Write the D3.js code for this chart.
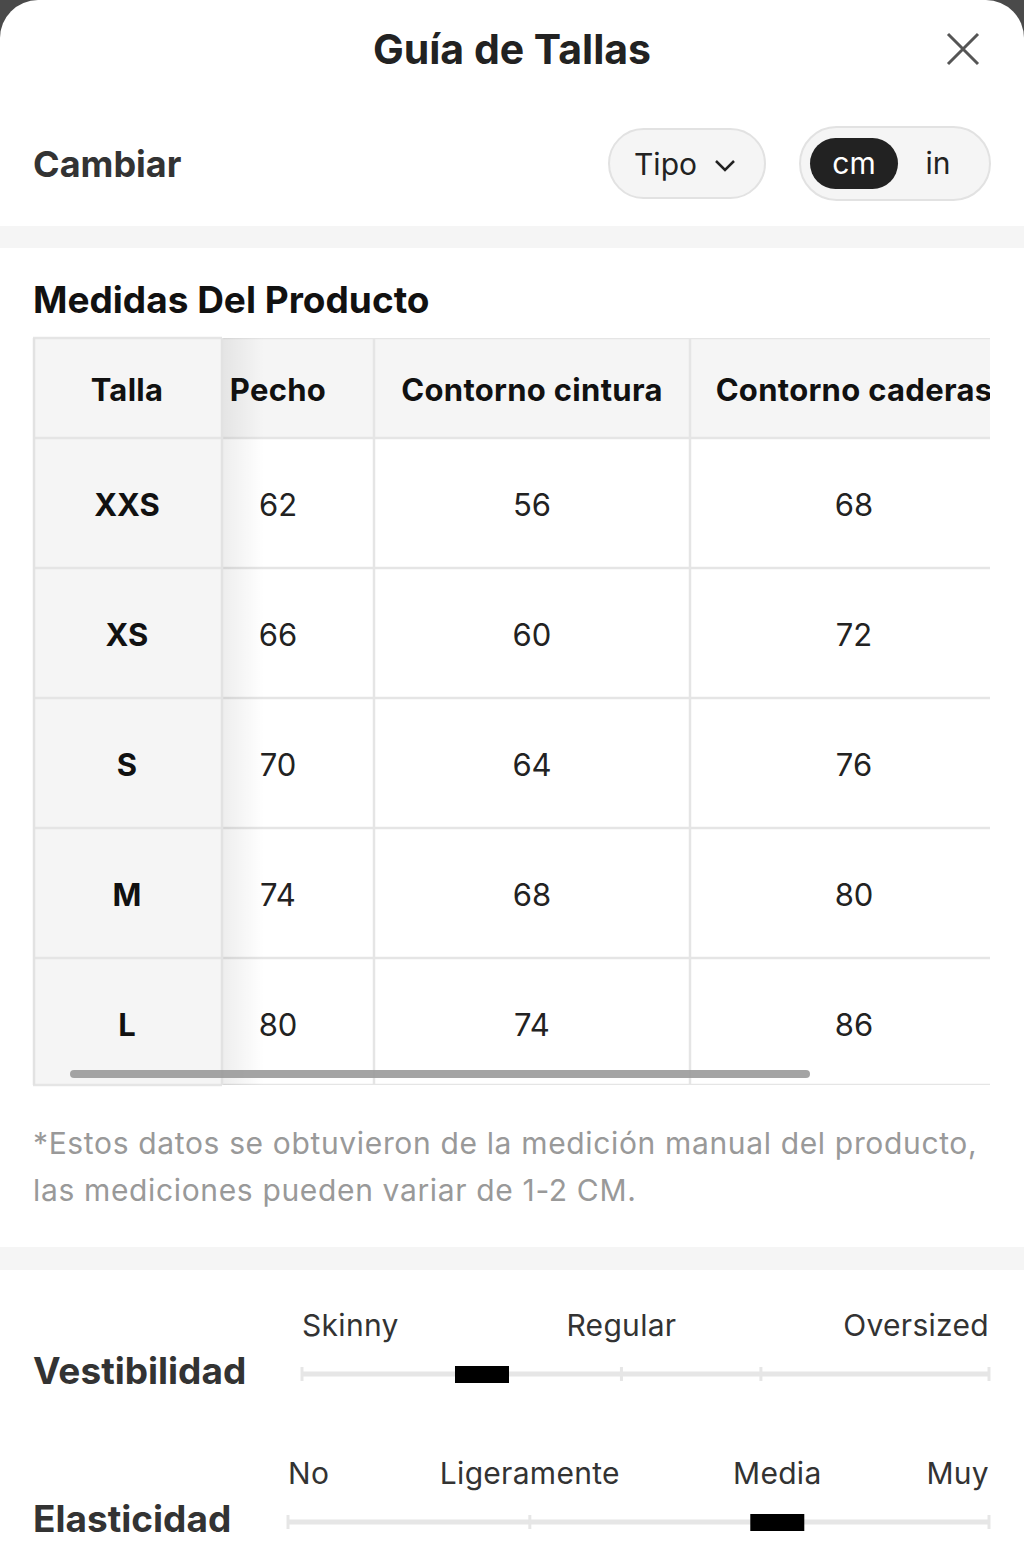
<!DOCTYPE html>
<html>
<head>
<meta charset="utf-8">
<script src="https://cdn.jsdelivr.net/npm/d3@7"></script>
<style>
  html, body { margin: 0; padding: 0; background: #4a4a4a; }
  svg { display: block; font-family: "Inter", "Roboto", sans-serif; }
</style>
</head>
<body>
<svg id="guide" width="1024" height="1568"></svg>
<script>
// datos de la tabla
var sizes = ["XXS", "XS", "S", "M", "L"];
var headers = ["Talla", "Pecho", "Contorno cintura", "Contorno caderas"];
var pecho = [62, 66, 70, 74, 80];
var cintura = [56, 60, 64, 68, 74];
var caderas = [68, 72, 76, 80, 86];

// vestibilidad (escala 0-100)
var fitLabels = ["Skinny", "Regular", "Oversized"];
var fitLabelAt = [0, 46.5, 100];
var fitTicks = [0, 46.5, 66.8, 100];
var fitValue = 26.2;

// elasticidad (escala 0-100)
var stretchLabels = ["No", "Ligeramente", "Media", "Muy"];
var stretchLabelAt = [0, 34.5, 69.8, 100];
var stretchTicks = [0, 34.5, 69.8, 100];
var stretchValue = 69.8;

var svg = d3.select("#guide");
var ink = "#222";

// hoja blanca con esquinas redondeadas
svg.append("rect").attr("x", 0).attr("y", 0).attr("width", 1024).attr("height", 1640)
  .attr("rx", 38).style("fill", "#fff");

// cabecera
svg.append("text").attr("x", 512).attr("y", 64).attr("text-anchor", "middle")
  .style("font-size", "41px").style("font-weight", 700).style("fill", ink)
  .text("Guía de Tallas");
svg.append("path").attr("d", "M948,34L978,64M978,34L948,64")
  .style("stroke", "#555").style("stroke-width", 3).style("fill", "none");

svg.append("text").attr("x", 33).attr("y", 177)
  .style("font-size", "36px").style("font-weight", 700).style("fill", "#333")
  .text("Cambiar");

// botón Tipo
svg.append("rect").attr("x", 609).attr("y", 129).attr("width", 156).attr("height", 69).attr("rx", 34.5)
  .style("fill", "#f5f5f5").style("stroke", "#e2e2e2").style("stroke-width", 2);
svg.append("text").attr("x", 634).attr("y", 175)
  .style("font-size", "30px").style("fill", ink).text("Tipo");
svg.append("path").attr("d", "M716,161L725,170L734,161")
  .style("stroke", ink).style("stroke-width", 2.5).style("fill", "none");

// selector cm / in
svg.append("rect").attr("x", 800).attr("y", 127).attr("width", 190).attr("height", 73).attr("rx", 36.5)
  .style("fill", "#f5f5f5").style("stroke", "#e2e2e2").style("stroke-width", 2);
svg.append("rect").attr("x", 810).attr("y", 138).attr("width", 88).attr("height", 51).attr("rx", 25.5)
  .style("fill", "#222");
svg.append("text").attr("x", 854).attr("y", 174).attr("text-anchor", "middle")
  .style("font-size", "30px").style("fill", "#fff").text("cm");
svg.append("text").attr("x", 938).attr("y", 174).attr("text-anchor", "middle")
  .style("font-size", "30px").style("fill", ink).text("in");

// bandas grises
svg.append("rect").attr("x", 0).attr("y", 226).attr("width", 1024).attr("height", 22).style("fill", "#f5f5f5");
svg.append("rect").attr("x", 0).attr("y", 1247).attr("width", 1024).attr("height", 23).style("fill", "#f5f5f5");

svg.append("text").attr("x", 33).attr("y", 313)
  .style("font-size", "37px").style("font-weight", 700).style("fill", "#111")
  .text("Medidas Del Producto");

// tabla
var tableLeft = 33, tableRight = 990, headTop = 338, headBottom = 438, tableBottom = 1085;
var cols = [
  { key: "size", x0: 33, x1: 222 },
  { key: "pecho", x0: 182, x1: 374 },
  { key: "cintura", x0: 374, x1: 690 },
  { key: "caderas", x0: 690, x1: 1018 }
];
var columnsData = [sizes, pecho, cintura, caderas];

var y = d3.scaleBand().domain(sizes).range([headBottom, headBottom + 130 * sizes.length]);

var defs = svg.append("defs");
defs.append("clipPath").attr("id", "tclip").append("rect")
  .attr("x", tableLeft).attr("y", headTop).attr("width", tableRight - tableLeft).attr("height", tableBottom - headTop);
var grad = defs.append("linearGradient").attr("id", "shadow");
grad.append("stop").attr("offset", "0%").attr("stop-color", "#000").attr("stop-opacity", 0.07);
grad.append("stop").attr("offset", "100%").attr("stop-color", "#000").attr("stop-opacity", 0);

var table = svg.append("g").attr("clip-path", "url(#tclip)");

// fila de cabecera
table.append("rect").attr("x", tableLeft).attr("y", headTop).attr("width", tableRight - tableLeft)
  .attr("height", headBottom - headTop).style("fill", "#f5f5f5");

var scrollCols = cols.slice(1);
table.selectAll("text.head").data(scrollCols).enter().append("text")
  .attr("class", "head")
  .attr("x", function(d) { return (d.x0 + d.x1) / 2; })
  .attr("y", 401).attr("text-anchor", "middle")
  .style("font-size", "31px").style("font-weight", 700).style("fill", "#111")
  .style("letter-spacing", "0.3px")
  .text(function(d, i) { return headers[i + 1]; });

// celdas de valores
scrollCols.forEach(function(c, ci) {
  table.selectAll("text.v" + ci).data(columnsData[ci + 1]).enter().append("text")
    .attr("class", "v" + ci)
    .attr("x", (c.x0 + c.x1) / 2)
    .attr("y", function(d, i) { return y(sizes[i]) + y.bandwidth() / 2 + 13; })
    .attr("text-anchor", "middle")
    .style("font-size", "31px").style("fill", ink)
    .text(function(d) { return d; });
});

// líneas horizontales
var hLines = [headTop, headBottom].concat(sizes.slice(1).map(function(s) { return y(s); })).concat([tableBottom]);
table.selectAll("line.h").data(hLines).enter().append("line")
  .attr("x1", tableLeft).attr("x2", tableRight)
  .attr("y1", function(d) { return d; }).attr("y2", function(d) { return d; })
  .style("stroke", "#e5e5e5").style("stroke-width", 2.5);
table.selectAll("line.vl").data([374, 690]).enter().append("line")
  .attr("x1", function(d) { return d; }).attr("x2", function(d) { return d; })
  .attr("y1", headTop).attr("y2", tableBottom)
  .style("stroke", "#e5e5e5").style("stroke-width", 2.5);

// columna fija "Talla"
var sticky = svg.append("g");
sticky.append("rect").attr("x", 222).attr("y", headTop).attr("width", 42).attr("height", tableBottom - headTop)
  .style("fill", "url(#shadow)");
sticky.append("rect").attr("x", 33).attr("y", headTop).attr("width", 189).attr("height", tableBottom - headTop)
  .style("fill", "#f5f5f5");
sticky.append("text").attr("x", 127).attr("y", 401).attr("text-anchor", "middle")
  .style("font-size", "31px").style("font-weight", 700).style("fill", "#111")
  .style("letter-spacing", "0.3px").text(headers[0]);
sticky.selectAll("text.size").data(sizes).enter().append("text")
  .attr("class", "size")
  .attr("x", 127)
  .attr("y", function(d) { return y(d) + y.bandwidth() / 2 + 13; })
  .attr("text-anchor", "middle")
  .style("font-size", "31px").style("font-weight", 700).style("fill", "#111")
  .text(function(d) { return d; });
sticky.selectAll("line.h").data(hLines).enter().append("line")
  .attr("x1", 33).attr("x2", 222)
  .attr("y1", function(d) { return d; }).attr("y2", function(d) { return d; })
  .style("stroke", "#e5e5e5").style("stroke-width", 2.5);
sticky.selectAll("line.sv").data([34, 222]).enter().append("line")
  .attr("x1", function(d) { return d; }).attr("x2", function(d) { return d; })
  .attr("y1", headTop).attr("y2", tableBottom)
  .style("stroke", "#e2e2e2").style("stroke-width", 2.5);

// barra de desplazamiento
svg.append("rect").attr("x", 70).attr("y", 1070).attr("width", 740).attr("height", 8).attr("rx", 4)
  .style("fill", "#9a9a9a").style("opacity", 0.9);

// nota
svg.append("text").attr("x", 33).attr("y", 1154)
  .style("font-size", "30px").style("letter-spacing", "0.65px").style("fill", "#999")
  .text("*Estos datos se obtuvieron de la medición manual del producto,");
svg.append("text").attr("x", 33).attr("y", 1201)
  .style("font-size", "30px").style("letter-spacing", "0.65px").style("fill", "#999")
  .text("las mediciones pueden variar de 1-2 CM.");

// deslizadores
function slider(title, titleY, x0, x1, trackY, labels, labelAt, ticks, value) {
  var sx = d3.scaleLinear().domain([0, 100]).range([x0, x1]);
  var g = svg.append("g");
  g.append("text").attr("x", 33).attr("y", titleY)
    .style("font-size", "37px").style("font-weight", 700).style("fill", "#333").text(title);
  g.selectAll("text.lab").data(labels).enter().append("text")
    .attr("x", function(d, i) { return sx(labelAt[i]); })
    .attr("y", trackY - 38)
    .attr("text-anchor", function(d, i) { return i === 0 ? "start" : (i === labels.length - 1 ? "end" : "middle"); })
    .style("font-size", "30px").style("letter-spacing", "0.3px").style("fill", "#333")
    .text(function(d) { return d; });
  g.append("line").attr("x1", sx(0)).attr("x2", sx(100)).attr("y1", trackY).attr("y2", trackY)
    .style("stroke", "#e6e6e6").style("stroke-width", 5);
  g.selectAll("line.tick").data(ticks).enter().append("line")
    .attr("x1", function(d) { return sx(d); }).attr("x2", function(d) { return sx(d); })
    .attr("y1", trackY - 7).attr("y2", trackY + 7)
    .style("stroke", "#e6e6e6").style("stroke-width", 3);
  g.append("rect").attr("x", sx(value) - 27).attr("y", trackY - 8).attr("width", 54).attr("height", 17)
    .style("fill", "#000");
}
slider("Vestibilidad", 1384, 302, 989, 1374, fitLabels, fitLabelAt, fitTicks, fitValue);
slider("Elasticidad", 1532, 288, 989, 1522, stretchLabels, stretchLabelAt, stretchTicks, stretchValue);
</script>
</body>
</html>
